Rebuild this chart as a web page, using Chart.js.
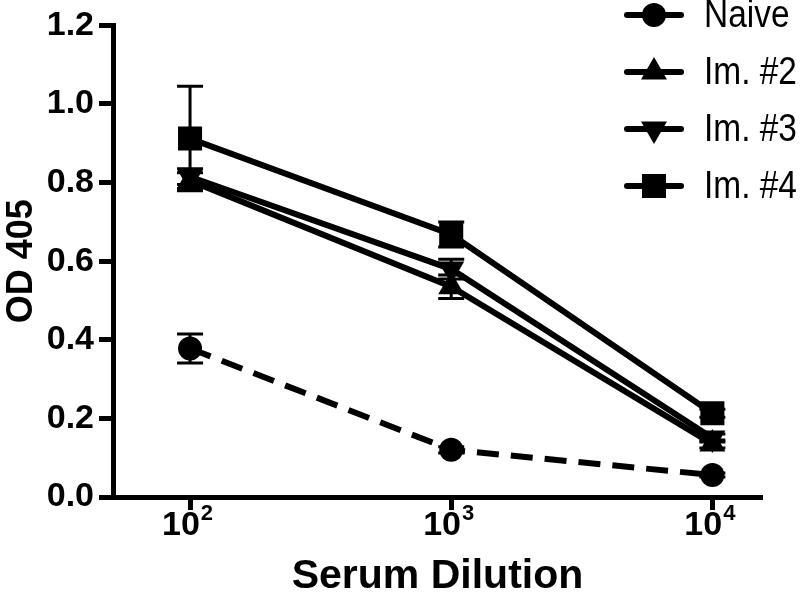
<!DOCTYPE html>
<html lang="en">
<head>
	<script src="https://cdn.jsdelivr.net/npm/chart.js"></script>
	<title>Serum Dilution OD</title>
	<style>
		html, body { margin: 0; padding: 0; background: #fff; }
		#wrap { width: 800px; height: 601px; }
	</style>
</head>
<body>
	<div id="wrap"><canvas id="myChart"></canvas></div>

	<script>
		// serum dilution as powers of ten
		const dilutionExp = [2, 3, 4];
		const yTicks = [0, 0.2, 0.4, 0.6, 0.8, 1.0, 1.2];

		const seriesNames = ['Naive', 'Im. #2', 'Im. #3', 'Im. #4'];
		const naive = [0.378, 0.12, 0.056];
		const naiveErr = [0.037, 0.008, 0.005];
		const im2 = [0.805, 0.535, 0.135];
		const im2Err = [0.02, 0.03, 0.01];
		const im3 = [0.815, 0.58, 0.15];
		const im3Err = [0.02, 0.025, 0.01];
		const im4 = [0.912, 0.668, 0.213];
		const im4Err = [0.133, 0.032, 0.01];

		const FONT = '"Liberation Sans", Arial, sans-serif';

		const styles = [
			{ pointStyle: 'circle', radius: 12, rotation: 0, dash: [22, 12] },
			{ pointStyle: 'triangle', radius: 15, rotation: 0, dash: [] },
			{ pointStyle: 'triangle', radius: 15, rotation: 180, dash: [] },
			{ pointStyle: 'rect', radius: 17, rotation: 0, dash: [] }
		];
		const values = [naive, im2, im3, im4];
		const errors = [naiveErr, im2Err, im3Err, im4Err];

		const datasets = seriesNames.map((name, i) => ({
			label: name,
			data: dilutionExp.map((x, j) => ({ x: x, y: values[i][j] })),
			err: errors[i],
			borderColor: '#000',
			backgroundColor: '#000',
			borderWidth: 6,
			borderDash: styles[i].dash,
			pointStyle: styles[i].pointStyle,
			pointRadius: styles[i].radius,
			pointRotation: styles[i].rotation,
			pointBorderWidth: 0,
			pointBackgroundColor: '#000',
			tension: 0
		}));

		const errorBars = {
			id: 'errorBars',
			beforeDatasetsDraw(chart) {
				const ctx = chart.ctx;
				const xs = chart.scales.x, ys = chart.scales.y;
				ctx.save();
				ctx.strokeStyle = '#000';
				ctx.lineWidth = 3;
				chart.data.datasets.forEach(ds => {
					ds.data.forEach((p, j) => {
						const e = ds.err[j];
						const px = xs.getPixelForValue(p.x);
						const top = ys.getPixelForValue(p.y + e);
						const bot = ys.getPixelForValue(p.y - e);
						ctx.beginPath();
						ctx.moveTo(px, top); ctx.lineTo(px, bot);
						ctx.moveTo(px - 13, top); ctx.lineTo(px + 13, top);
						ctx.moveTo(px - 13, bot); ctx.lineTo(px + 13, bot);
						ctx.stroke();
					});
				});
				ctx.restore();
			}
		};

		// 10^n labels with a real raised exponent
		const powerLabels = {
			id: 'powerLabels',
			afterDraw(chart) {
				const ctx = chart.ctx;
				const xs = chart.scales.x;
				ctx.save();
				ctx.fillStyle = '#000';
				ctx.textBaseline = 'alphabetic';
				ctx.textAlign = 'left';
				dilutionExp.forEach(e => {
					const px = xs.getPixelForValue(e);
					ctx.font = 'bold 34px ' + FONT;
					const w1 = ctx.measureText('10').width;
					ctx.font = 'bold 22px ' + FONT;
					const w2 = ctx.measureText(String(e)).width;
					const x0 = px - (w1 + w2) / 2 - 3;
					ctx.font = 'bold 34px ' + FONT;
					ctx.fillText('10', x0, 535);
					ctx.font = 'bold 22px ' + FONT;
					ctx.fillText(String(e), x0 + w1 + 1, 520);
				});
				ctx.restore();
			}
		};

		const sideLegend = {
			id: 'sideLegend',
			afterDraw(chart) {
				const ctx = chart.ctx;
				ctx.save();
				chart.data.datasets.forEach((ds, i) => {
					const y = 15 + i * 57;
					ctx.strokeStyle = '#000';
					ctx.fillStyle = '#000';
					ctx.lineWidth = 6;
					ctx.lineCap = 'round';
					ctx.setLineDash([]);
					ctx.beginPath();
					ctx.moveTo(627, y); ctx.lineTo(681, y);
					ctx.stroke();
					Chart.helpers.drawPoint(ctx, {
						pointStyle: ds.pointStyle,
						radius: ds.pointRadius,
						rotation: ds.pointRotation,
						borderWidth: 0
					}, 654, y);
					// narrow, tall lettering like the original
					ctx.save();
					ctx.translate(704, y + 2);
					ctx.scale(0.88, 1);
					ctx.font = '38px ' + FONT;
					ctx.textBaseline = 'middle';
					ctx.textAlign = 'left';
					ctx.fillText(ds.label, 0, 0);
					ctx.restore();
				});
				ctx.restore();
			}
		};

		const myChart = new Chart(document.getElementById('myChart'), {
			type: 'line',
			data: { datasets: datasets },
			plugins: [errorBars, powerLabels, sideLegend],
			options: {
				responsive: true,
				maintainAspectRatio: false,
				animation: false,
				layout: { padding: { top: 14, right: 38, left: 0, bottom: 0 } },
				plugins: { legend: { display: false }, tooltip: { enabled: false } },
				scales: {
					x: {
						type: 'linear',
						min: 1.705,
						max: 4.19,
						afterBuildTicks: s => { s.ticks = dilutionExp.map(v => ({ value: v })); },
						afterFit: s => { s.height = 104; },
						border: { display: true, color: '#000', width: 5 },
						grid: { display: true, drawOnChartArea: false, tickLength: 13, tickWidth: 5, tickColor: '#000' },
						ticks: {
							color: 'rgba(0,0,0,0)',
							padding: 2,
							font: { family: FONT, size: 32, weight: 'bold' },
							callback: v => '10' + v
						},
						title: {
							display: true,
							text: 'Serum Dilution',
							color: '#000',
							padding: 0,
							font: { family: FONT, size: 41, weight: 'bold' }
						}
					},
					y: {
						min: 0,
						max: 1.2,
						afterBuildTicks: s => { s.ticks = yTicks.map(v => ({ value: v })); },
						afterFit: s => { s.width = 113; },
						border: { display: true, color: '#000', width: 5 },
						grid: { display: true, drawOnChartArea: false, tickLength: 14, tickWidth: 5, tickColor: '#000' },
						ticks: {
							color: '#000',
							padding: 5,
							font: { family: FONT, size: 34, weight: 'bold' },
							callback: v => v.toFixed(1)
						},
						title: {
							display: true,
							text: 'OD 405',
							color: '#000',
							padding: 0,
							font: { family: FONT, size: 36, weight: 'bold' }
						}
					}
				}
			}
		});
	</script>
</body>
</html>
